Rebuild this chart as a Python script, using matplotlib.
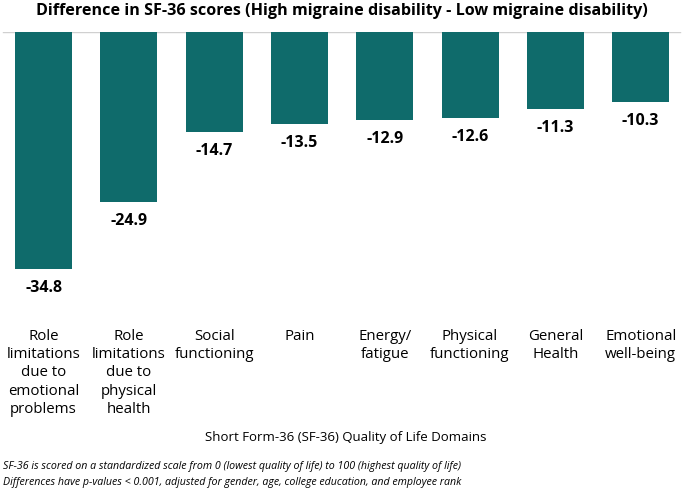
import matplotlib
matplotlib.use('Agg')
import matplotlib.pyplot as plt
from matplotlib.transforms import blended_transform_factory

domains = ["Role\nlimitations\ndue to\nemotional\nproblems",
           "Role\nlimitations\ndue to\nphysical\nhealth",
           "Social\nfunctioning", "Pain", "Energy/\nfatigue",
           "Physical\nfunctioning", "General\nHealth", "Emotional\nwell-being"]
differences = [-34.8, -24.9, -14.7, -13.5, -12.9, -12.6, -11.3, -10.3]

BAR_COLOR = "#0f6b6b"
FONT = ["Open Sans", "DejaVu Sans"]
plt.rcParams['font.family'] = FONT

fig = plt.figure(figsize=(6.85, 4.88), dpi=100)
ax = fig.add_axes([0.0, 0.376, 1.0, 0.5584])

xs = range(len(differences))
ax.bar(xs, differences, width=0.668, color=BAR_COLOR, zorder=2)
ax.axhline(0, color="#d0d0d0", lw=1, xmin=0.004, xmax=0.993, zorder=1)

for x, v in zip(xs, differences):
    ax.annotate(f"{v:.1f}", (x, v), xytext=(0, -8), textcoords="offset points",
                ha="center", va="top", fontsize=11.5, fontweight="bold")

ax.set_xlim(-0.51, 7.52)
ax.set_ylim(-40, 0)
for s in ax.spines.values():
    s.set_visible(False)
ax.set_yticks([])
ax.set_xticks([])

trans = blended_transform_factory(ax.transData, fig.transFigure)
for x, lab in zip(xs, domains):
    ax.text(x, 1 - 329 / 488, lab, transform=trans, ha="center", va="top",
            fontsize=10.8, linespacing=1.29)

fig.text(346 / 685, 1 - 437 / 488, "Short Form-36 (SF-36) Quality of Life Domains",
         ha="center", va="center", fontsize=9.5)
fig.text(342 / 685, 1 - 11 / 488,
         "Difference in SF-36 scores (High migraine disability - Low migraine disability)",
         ha="center", va="center", fontsize=11.6, fontweight="bold")
fig.text(3 / 685, 1 - 467 / 488,
         "SF-36 is scored on a standardized scale from 0 (lowest quality of life) to 100 (highest quality of life)",
         ha="left", va="center", fontsize=7.7, style="italic")
fig.text(3 / 685, 1 - 482 / 488,
         "Differences have p-values < 0.001, adjusted for gender, age, college education, and employee rank",
         ha="left", va="center", fontsize=7.7, style="italic")

fig.savefig("out.png", dpi=100)
